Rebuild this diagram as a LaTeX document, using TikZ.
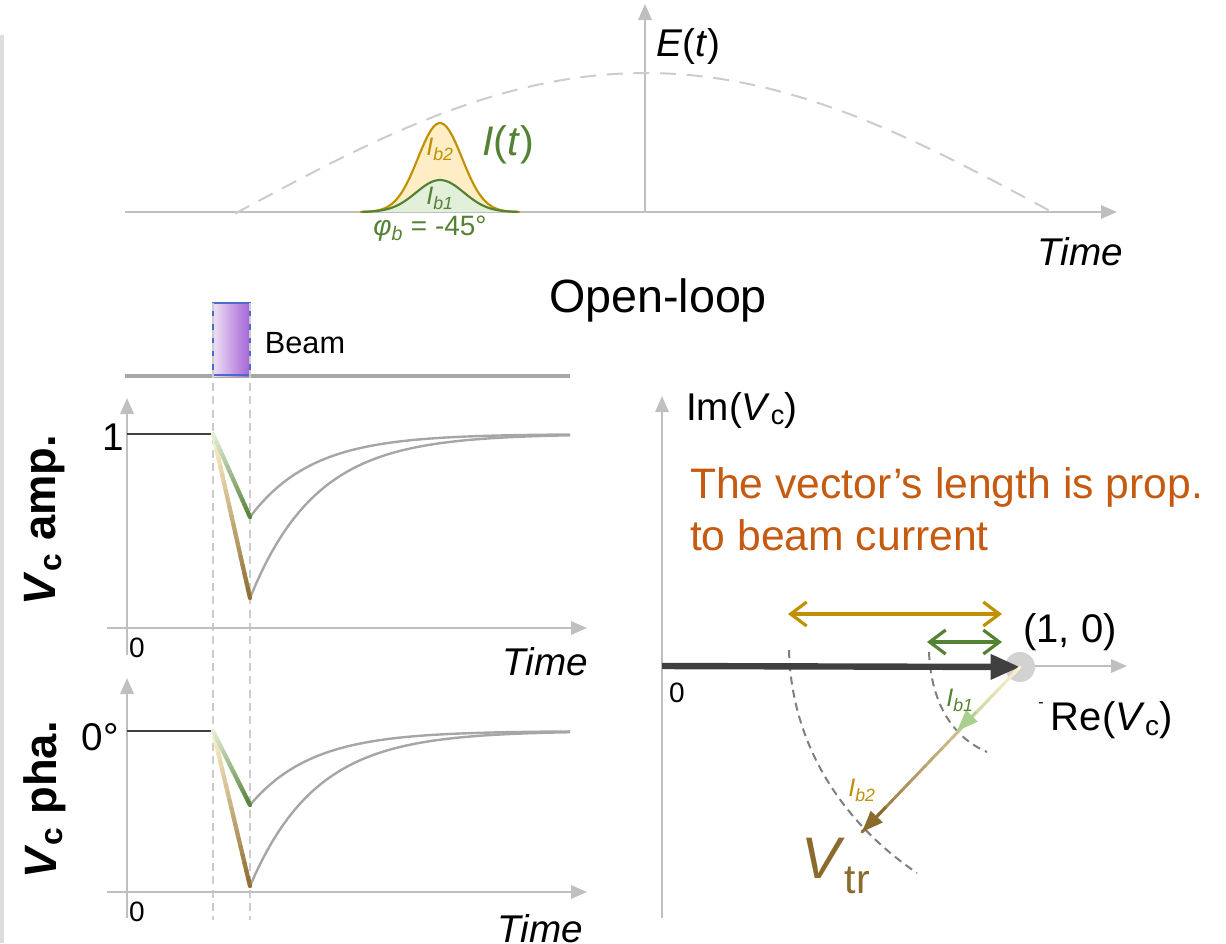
\documentclass[tikz,border=0pt]{standalone}
\usepackage{fontspec}
\setmainfont{Liberation Sans}
\usetikzlibrary{arrows.meta,calc}
\definecolor{axisgray}{HTML}{BFBFBF}
\definecolor{curvegray}{HTML}{A6A6A6}
\definecolor{dashgray}{HTML}{CCCCCC}
\definecolor{arcgray}{HTML}{7F7F7F}
\definecolor{gold}{HTML}{BF9000}
\definecolor{goldfill}{HTML}{FFEDC6}
\definecolor{dkgreen}{HTML}{548235}
\definecolor{greenfill}{HTML}{E2EFDA}
\definecolor{ltgreen}{HTML}{A9D18E}
\definecolor{vbrown}{HTML}{8B6A2E}
\definecolor{cream}{HTML}{FFF2CC}
\definecolor{orangetxt}{HTML}{C55A11}
\definecolor{darkvec}{HTML}{404040}
\definecolor{beamL}{HTML}{EEDFF5}
\definecolor{beamR}{HTML}{A463D6}
\definecolor{beamB}{HTML}{4A6BC8}
\definecolor{sidebar}{HTML}{DDDDDD}
\newcommand\fsz[1]{\fontsize{#1}{#1}\selectfont}
\newcommand\gradseg[5]{%
  \foreach \k in {0,...,19}{%
    \pgfmathsetmacro\pa{\k/20}%
    \pgfmathsetmacro\pb{(\k+1)/20}%
    \pgfmathtruncatemacro\pc{100-\k*5}%
    \draw[line width=#5, draw=#3!\pc!#4, line cap=round] ($(#1)!\pa!(#2)$) -- ($(#1)!\pb!(#2)$);
  }}
\begin{document}
\begin{tikzpicture}[x=0.75pt,y=-0.75pt,
  axis/.style={draw=axisgray, line width=1.6pt, -{Triangle[length=12pt,width=10pt]}},
  guide/.style={draw=dashgray, line width=1.2pt, dash pattern=on 6pt off 4pt},
  recov/.style={draw=curvegray, line width=1.8pt},
  level/.style={draw=darkvec, line width=2pt},
  lbl/.style={inner sep=0pt, outer sep=0pt},
  dbl/.style={line width=2.4pt, {Straight Barb[length=12pt,width=18pt,line width=2.4pt]}-{Straight Barb[length=12pt,width=18pt,line width=2.4pt]}},
  arcd/.style={draw=arcgray, line width=1.5pt, dash pattern=on 6pt off 4pt}]
\useasboundingbox (0,0) rectangle (1226,943);
% sidebar
\fill[sidebar] (0,35) rectangle (4,943);

% ---------- top panel ----------
\coordinate (tx0) at (125,212); \coordinate (tx1) at (1117,212);
\coordinate (ty0) at (645,212); \coordinate (ty1) at (645,4);
\draw[axis] (tx0) -- (tx1);
\draw[axis] (ty0) -- (ty1);
\draw[draw=dashgray, line width=1.5pt, dash pattern=on 12pt off 8pt]
  plot[domain=235:1052, samples=80] (\x, {212-139*cos((\x-645)/407*90)});
% pulses
\fill[goldfill] plot[domain=360:520, samples=60] (\x, {212-89*exp(-((\x-440)/22)^2/2)}) -- cycle;
\fill[greenfill] plot[domain=360:520, samples=60] (\x, {212-32*exp(-((\x-440)/24)^2/2)}) -- cycle;
\draw[gold, line width=1.6pt] plot[domain=360:520, samples=60] (\x, {212-89*exp(-((\x-440)/22)^2/2)});
\draw[dkgreen, line width=1.6pt] plot[domain=362:518, samples=60] (\x, {212-32*exp(-((\x-440)/24)^2/2)});
\node[lbl, text=gold] (ib2t) at (440,149) {\fsz{19}\textit{I\textsubscript{b2}}};
\node[lbl, text=dkgreen] (ib1t) at (440,198) {\fsz{19}\textit{I\textsubscript{b1}}};
\node[lbl, text=dkgreen] (It) at (508,145) {\fsz{31}\textit{I}(\textit{t})};
\node[lbl, text=dkgreen] (phib) at (430,229) {\fsz{21}\textit{φ\textsubscript{b}} = -45°};
\node[lbl] (Et) at (688,46) {\fsz{29}\textit{E}(\textit{t})};
\node[lbl] (time0) at (1080,252) {\fsz{29}\textit{Time}};
\node[lbl] (ol) at (658,300) {\fsz{35}Open-loop};

% ---------- beam ----------
\draw[draw=curvegray, line width=2.4pt] (125,376) -- (570,376);
\shade[left color=beamL, right color=beamR] (213,303) rectangle (250,376);
\draw[draw=beamB, line width=0.9pt] (213,303) rectangle (250,375);
\node[lbl] (beam) at (305,343) {\fsz{23}Beam};
\draw[guide] (213,303) -- (213,920);
\draw[guide] (250,303) -- (250,920);

% ---------- amplitude plot ----------
\coordinate (ay0) at (127,655); \coordinate (ay1) at (127,398);
\coordinate (ax0) at (107,628); \coordinate (ax1) at (587,628);
\draw[axis] (ay0) -- (ay1);
\draw[axis] (ax0) -- (ax1);
\coordinate (a1) at (127,434); \coordinate (a2) at (213,434);
\coordinate (ag) at (250,517); \coordinate (ab) at (250,598);
\draw[level] (a1) -- (a2);
\draw[recov] plot[domain=250:570, samples=60] (\x, {434+83*exp(-(\x-250)/62)});
\draw[recov] plot[domain=250:570, samples=60] (\x, {434+164*exp(-(\x-250)/66)});
\gradseg{a2}{ab}{cream}{vbrown}{3.2pt}
\gradseg{a2}{ag}{greenfill}{dkgreen}{3.2pt}
\node[lbl] (one) at (113,437) {\fsz{29}1};
\node[lbl] (z1) at (137,648) {\fsz{21}0};
\node[lbl] (time1) at (545,662) {\fsz{29}\textit{Time}};
\node[lbl, rotate=90] (vamp) at (45,520) {\fsz{34}\textbf{\textit{V}\textsubscript{c} amp.}};

% ---------- phase plot ----------
\coordinate (py0) at (127,918); \coordinate (py1) at (127,678);
\coordinate (px0) at (107,892); \coordinate (px1) at (587,892);
\draw[axis] (py0) -- (py1);
\draw[axis] (px0) -- (px1);
\coordinate (p1) at (127,731); \coordinate (p2) at (213,731);
\coordinate (pg) at (250,805); \coordinate (pb) at (250,886);
\draw[level] (p1) -- (p2);
\draw[recov] plot[domain=250:570, samples=60] (\x, {731+74*exp(-(\x-250)/62)});
\draw[recov] plot[domain=250:570, samples=60] (\x, {731+155*exp(-(\x-250)/66)});
\gradseg{p2}{pb}{cream}{vbrown}{3.2pt}
\gradseg{p2}{pg}{greenfill}{dkgreen}{3.2pt}
\node[lbl] (zdeg) at (100,737) {\fsz{29}0°};
\node[lbl] (z2) at (137,912) {\fsz{21}0};
\node[lbl] (time2) at (540,929) {\fsz{29}\textit{Time}};
\node[lbl, rotate=90] (vpha) at (45,800) {\fsz{34}\textbf{\textit{V}\textsubscript{c} pha.}};

% ---------- phasor ----------
\coordinate (O) at (662,666);
\coordinate (qy0) at (662,918); \coordinate (qy1) at (662,396);
\coordinate (qx1) at (1127,666);
\draw[axis] (qy0) -- (qy1);
\draw[axis] (O) -- (qx1);
\node[lbl] (im) at (742,410) {\fsz{29}Im(\textit{V}\textsubscript{c})};
\node[lbl, text=orangetxt, anchor=west] (note1) at (690,487) {\fsz{32}The vector’s length is prop.};
\node[lbl, text=orangetxt, anchor=west] (note2) at (690,535) {\fsz{32}to beam current};
\coordinate (P) at (1020,667);
\fill[axisgray!70] (P) circle[radius=15];
\draw[arcd] (789,650) .. controls (791,738) and (836,818) .. (917,873);
\draw[arcd] (929,652) .. controls (931,700) and (950,736) .. (987,752);
\coordinate (gL) at (788,614); \coordinate (gR) at (1002,614);
\coordinate (hL) at (927,642); \coordinate (hR) at (1002,642);
\draw[dbl, gold] (gL) -- (gR);
\draw[dbl, dkgreen] (hL) -- (hR);
\draw[darkvec, line width=4.8pt, -{Triangle[length=22pt,width=18pt]}] (O) -- (P);
\coordinate (B2) at (862,832);
\coordinate (B1) at (957,731);
\gradseg{P}{B2}{cream}{vbrown}{2.2pt}
\draw[vbrown, line width=2.2pt, -{Triangle[length=16pt,width=12pt]}] ($(P)!0.85!(B2)$) -- (B2);
\gradseg{P}{B1}{cream}{ltgreen}{1.4pt}
\draw[ltgreen, line width=1.4pt, -{Triangle[length=16pt,width=12pt]}] ($(P)!0.7!(B1)$) -- (B1);
\node[lbl] (pt10) at (1070,632) {\fsz{30}(1, 0)};
\node[lbl] (re) at (1112,720) {\fsz{30}Re(\textit{V}\textsubscript{c})};
\node[lbl] (tick) at (1041,705) {\fsz{12}-};
\node[lbl] (z3) at (677,693) {\fsz{21}0};
\node[lbl, text=dkgreen] (ib1p) at (960,700) {\fsz{19}\textit{I\textsubscript{b1}}};
\node[lbl, text=gold] (ib2p) at (862,790) {\fsz{19}\textit{I\textsubscript{b2}}};
\node[lbl, text=vbrown] (vtr) at (836,866) {\fsz{44}\textit{V}\textsubscript{tr}};
\end{tikzpicture}
\end{document}
